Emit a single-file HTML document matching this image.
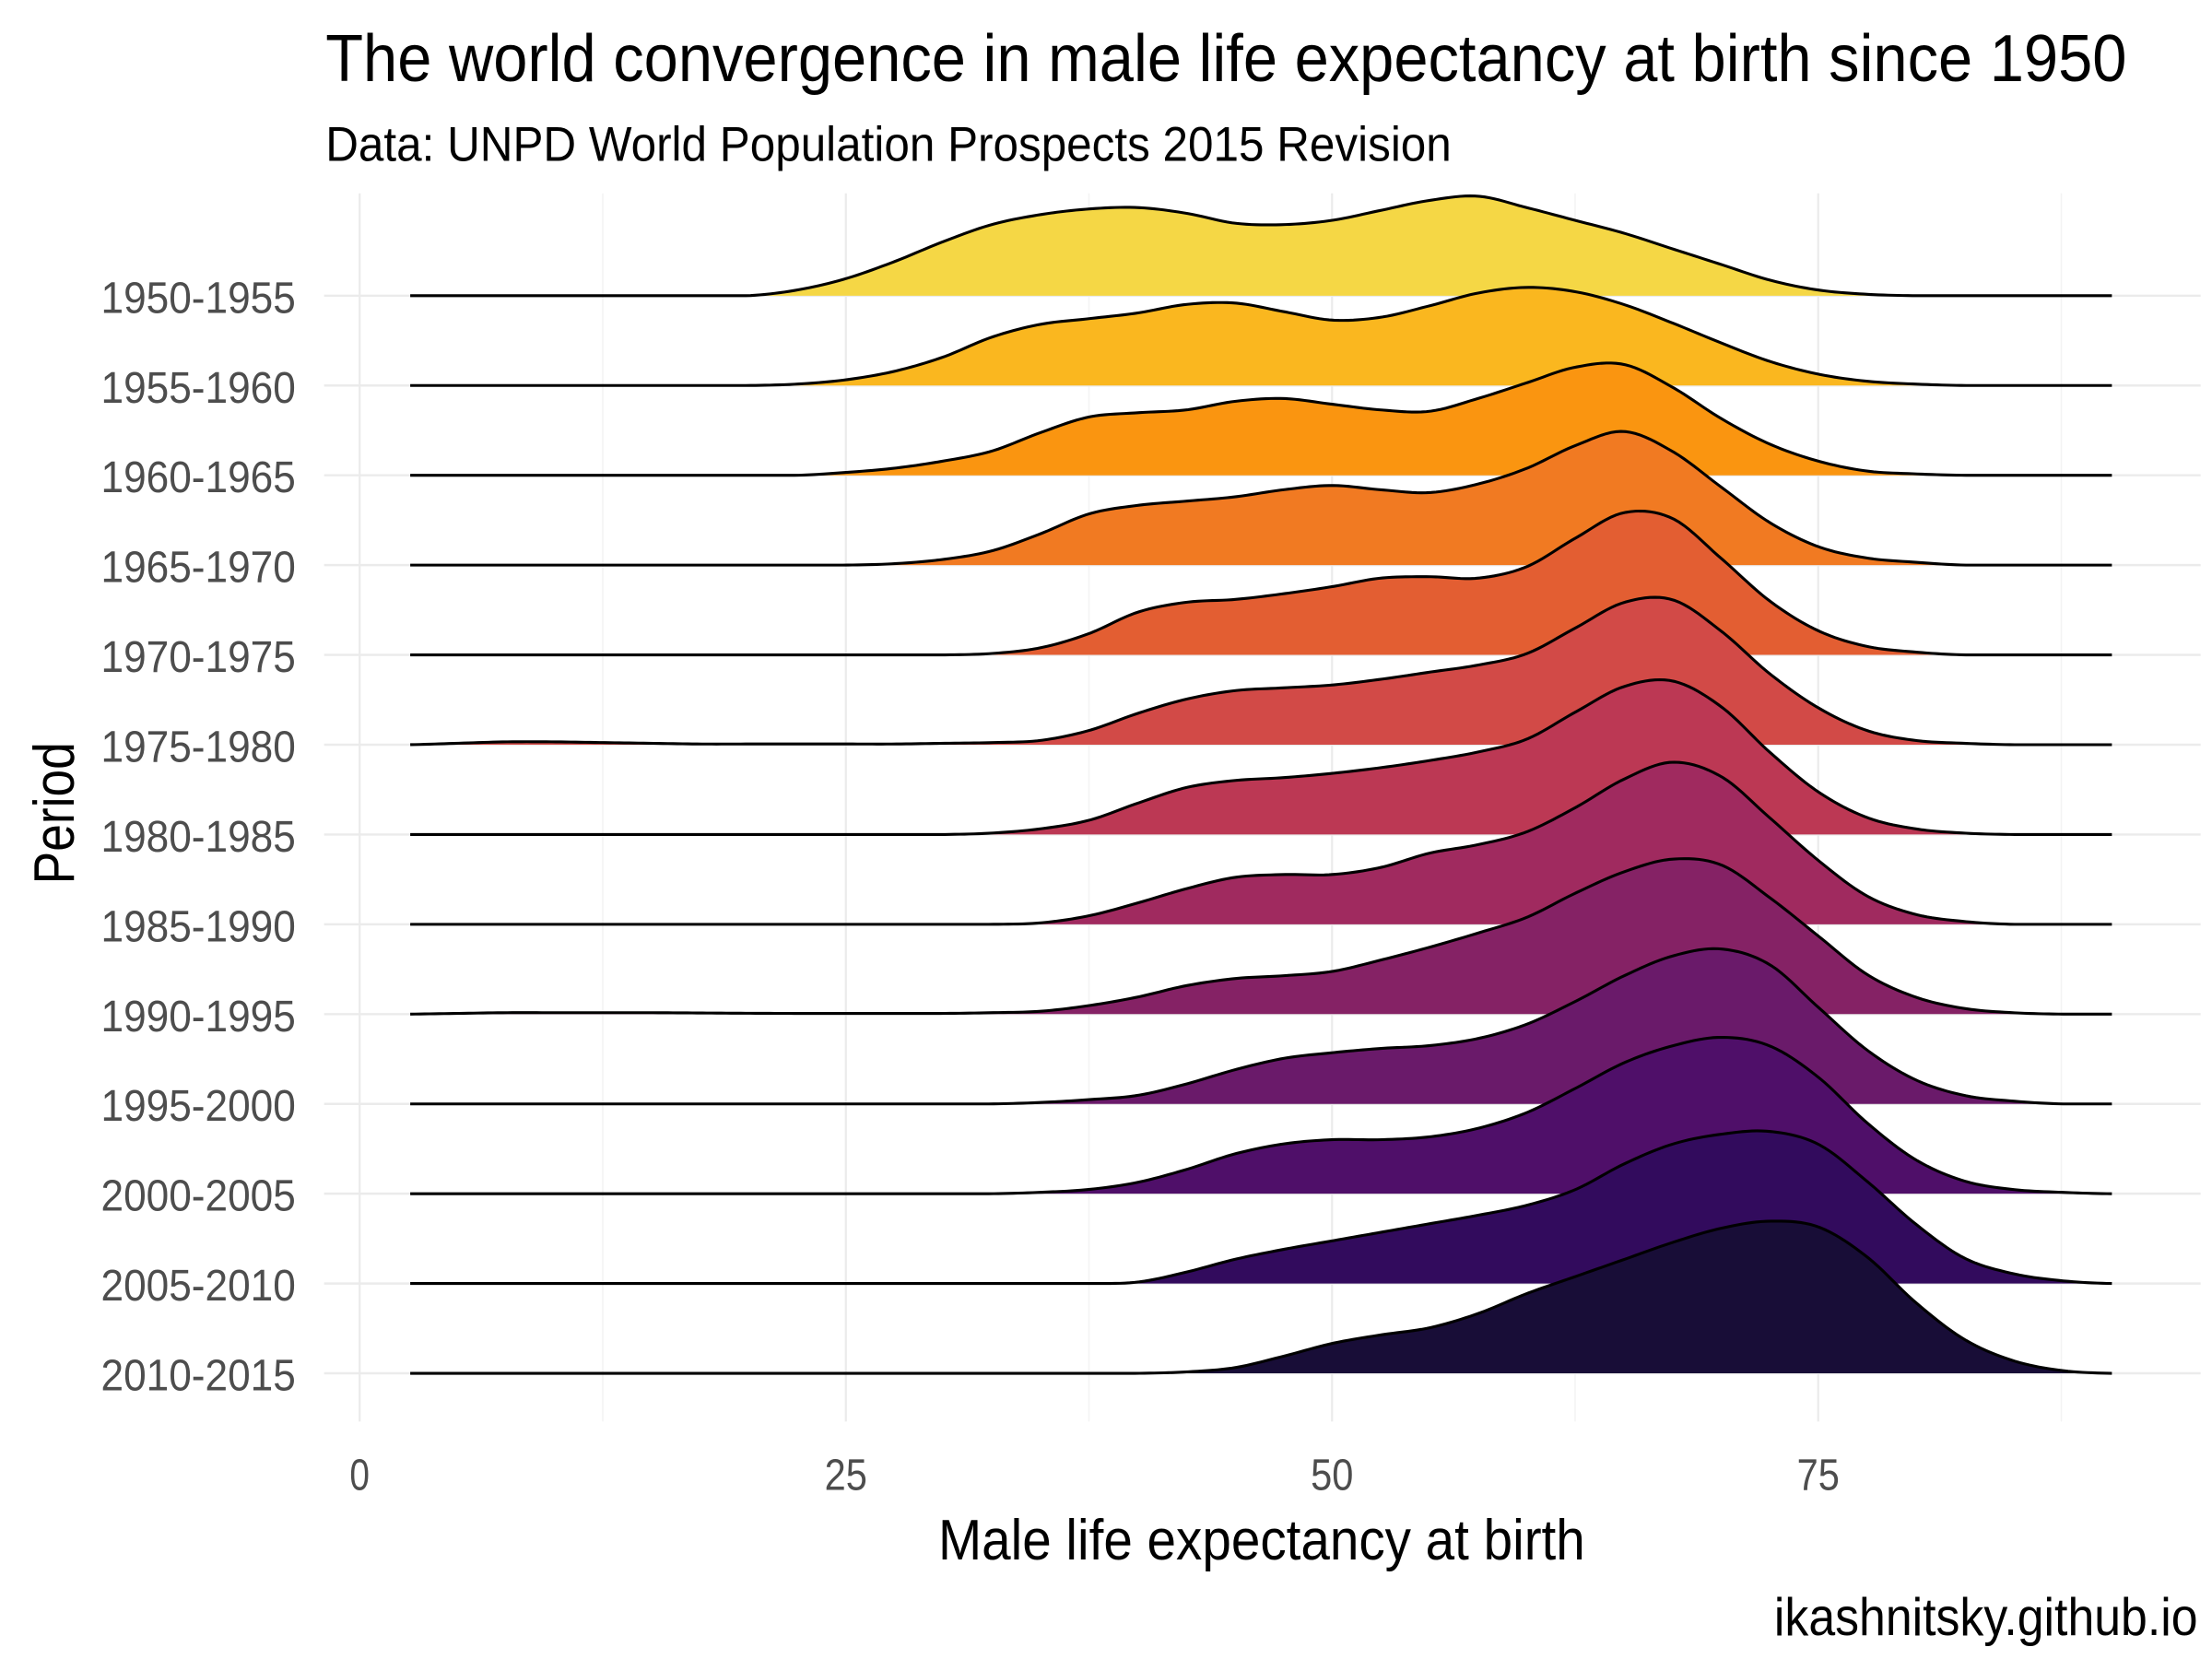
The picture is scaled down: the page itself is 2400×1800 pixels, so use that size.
<!DOCTYPE html>
<html><head><meta charset="utf-8">
<style>
html,body{margin:0;padding:0;background:#fff;}
svg{display:block;}
text{font-family:"Liberation Sans Narrow","Liberation Sans",sans-serif;}
</style></head>
<body>
<svg id="chart" width="2400" height="1800" viewBox="0 0 1556 1167" preserveAspectRatio="none" xmlns="http://www.w3.org/2000/svg">
  <rect x="0" y="0" width="1556" height="1167" fill="#fff"/>
  <g id="grid"></g>
  <g id="ridges"></g>
  <g id="ylabels"></g>
  <g id="xlabels"></g>
  <text x="229" y="57" font-size="47" fill="#000" textLength="1267" lengthAdjust="spacingAndGlyphs">The world convergence in male life expectancy at birth since 1950</text>
  <text x="229" y="113" font-size="34" fill="#000" textLength="792" lengthAdjust="spacingAndGlyphs">Data: UNPD World Population Prospects 2015 Revision</text>
  <text x="660" y="1097" font-size="40" fill="#000" textLength="455" lengthAdjust="spacingAndGlyphs">Male life expectancy at birth</text>
  <text transform="translate(52,622) rotate(-90)" font-size="40" fill="#000" textLength="100" lengthAdjust="spacingAndGlyphs">Period</text>
  <text x="1546" y="1150" font-size="37" fill="#000" text-anchor="end" textLength="298" lengthAdjust="spacingAndGlyphs">ikashnitsky.github.io</text>
</svg>
<script>
const periods = ["1950-1955","1955-1960","1960-1965","1965-1970","1970-1975","1975-1980","1980-1985","1985-1990","1990-1995","1995-2000","2000-2005","2005-2010","2010-2015"];
const ageStart = 0;
const ageStep = 2.5;
const d1950 = [0,0,0,0,0,0,0,0,0, 4,12,24,38,50,57,61,62,58,51,50,53,60,67,70,62,53,44,33,22,11,4,1,0, 0,0,0,0];
const d1955 = [0,0,0,0,0,0,0,0,0, 1,4,10,20,34,43,47,51,57,58,52,46,48,56,65,69,66,57,44,30,17,8,3,1,0, 0,0,0];
const d1960 = [0,0,0,0,0,0,0,0,0,0, 2,5,10,17,30,41,44,46,52,54,50,46,45,54,65,76,78,62,40,22,10,3,1, 0,0,0,0];
const d1965 = [0,0,0,0,0,0,0,0,0,0,0, 1,4,10,22,36,42,45,48,53,56,53,51,57,68,84,94,80,55,30,13,5,2, 0,0,0,0];
const d1970 = [0,0,0,0,0,0,0,0,0,0,0,0,0, 1,5,15,30,37,39,43,48,54,55,54,62,82,100,96,68,38,17,6,2, 0,0,0,0];
const d1975 = [0,0,1,2,2,1.5,1,0.5,0.5,0.5,0.5,0.5,1, 1.5, 3,10,22,32,38,40,42,46,51,56,64,82,100,102,80,50,26,10,3,1, 0,0,0];
const d1980 = [0,0,0,0,0,0,0,0,0,0,0,0,0, 1,4,10,22,33,38,40,43,47,52,58,67,86,104,108,90,58,30,12,4,1, 0,0,0];
const d1985 = [0,0,0,0,0,0,0,0,0,0,0,0,0,0, 1,6,15,25,33,35,35,40,50,56,65,82,102,114,104,75,45,20,7,2, 0,0,0];
const d1990 = [0,0,0.5,1,1,1,1,0.8,0.6,0.5,0.5,0.5,0.5,1, 2,6,12,20,25,27,30,38,47,57,68,85,100,109,105,82,55,28,12,4,1, 0,0];
const d1995 = [0,0,0,0,0,0,0,0,0,0,0,0,0,0, 1,3,6,14,24,32,36,39,41,46,56,72,90,104,109,98,68,38,17,6,2, 0,0];
const d2000 = [0,0,0,0,0,0,0,0,0,0,0,0,0,0, 1,3,8,17,28,35,38,38,40,46,57,74,92,104,110,104,82,50,24,9,3,1, 0];
const d2005 = [0,0,0,0,0,0,0,0,0,0,0,0,0,0,0,0, 1,8,17,24,30,36,42,48,55,66,84,98,105,107,98,72,42,18,7,2, 0];
const d2010 = [0,0,0,0,0,0,0,0,0,0,0,0,0,0,0,0,0, 1,4,12,21,27,32,42,56,68,80,92,102,107,103,82,50,24,9,2,0];
const series = [d1950,d1955,d1960,d1965,d1970,d1975,d1980,d1985,d1990,d1995,d2000,d2005,d2010];
const fills = ["#F5D745","#FAB71F","#FA9510","#F17A22","#E35E32","#D24A47","#BC3854","#A02A5F","#852265","#6A1A6A","#4F0F69","#320B5D","#180D37"];
const xTicks = [0,25,50,75];

const NS = "http://www.w3.org/2000/svg";
const xScale = v => 253 + v * 13.68;
const yBase = i => 208 + i * 63.17;
const hScale = d => d * 1.0;
const xMin = 2.6, xMax = 90.3;

function el(tag, attrs, parent){
  const e = document.createElementNS(NS, tag);
  for (const k in attrs) e.setAttribute(k, attrs[k]);
  parent.appendChild(e);
  return e;
}
function interp(vals, x){
  let i = Math.floor((x-ageStart)/ageStep);
  i = Math.max(0, Math.min(vals.length-2, i));
  const t = (x-(ageStart+i*ageStep))/ageStep;
  const p0 = vals[Math.max(0,i-1)], p1 = vals[i], p2 = vals[i+1], p3 = vals[Math.min(vals.length-1,i+2)];
  const t2=t*t, t3=t2*t;
  const v = 0.5*((2*p1)+(-p0+p2)*t+(2*p0-5*p1+4*p2-p3)*t2+(-p0+3*p1-3*p2+p3)*t3);
  return Math.max(0, v);
}

const grid = document.getElementById('grid');
for (let v = 0; v <= 87.5; v += 12.5){
  const major = (v % 25 === 0);
  const g = el('line', {x1:xScale(v), x2:xScale(v), y1:136, y2:1000, stroke: major ? '#EBEBEB' : '#F3F3F3', 'stroke-width': major ? 1.4 : 1}, grid);
  
  
}
periods.forEach((p, i) => {
  const g = el('line', {x1:228, x2:1548, y1:yBase(i), y2:yBase(i), stroke:'#EBEBEB', 'stroke-width':1.6}, grid);
  
  
});

const ridges = document.getElementById('ridges');
series.forEach((vals, i) => {
  const b = yBase(i);
  let pts = [];
  for (let x = xMin; x <= xMax + 1e-9; x += 0.25){
    pts.push([xScale(x), b - hScale(interp(vals, x))]);
  }
  const line = pts.map((q,k)=>(k?'L':'M')+q[0].toFixed(2)+' '+q[1].toFixed(2)).join(' ');
  const area = line + ` L${xScale(xMax).toFixed(2)} ${b} L${xScale(xMin).toFixed(2)} ${b} Z`;
  const a = el('path', {d:area, fill:fills[i], stroke:'none'}, ridges);
  
  
  const l = el('path', {d:line, fill:'none', stroke:'#000', 'stroke-width':2}, ridges);
  
  
});

const yl = document.getElementById('ylabels');
periods.forEach((p, i) => {
  const t = el('text', {x:208, y:yBase(i)+12, 'font-size':31, fill:'#4D4D4D', 'text-anchor':'end', textLength:137, lengthAdjust:'spacingAndGlyphs'}, yl);
  t.textContent = p;
  
  
});
const xl = document.getElementById('xlabels');
xTicks.forEach(v => {
  const t = el('text', {x:xScale(v), y:1048, 'font-size':31, fill:'#4D4D4D', 'text-anchor':'middle', textLength: v === 0 ? 14 : 30, lengthAdjust:'spacingAndGlyphs'}, xl);
  t.textContent = String(v);
  
  
});
</script>
</body></html>
